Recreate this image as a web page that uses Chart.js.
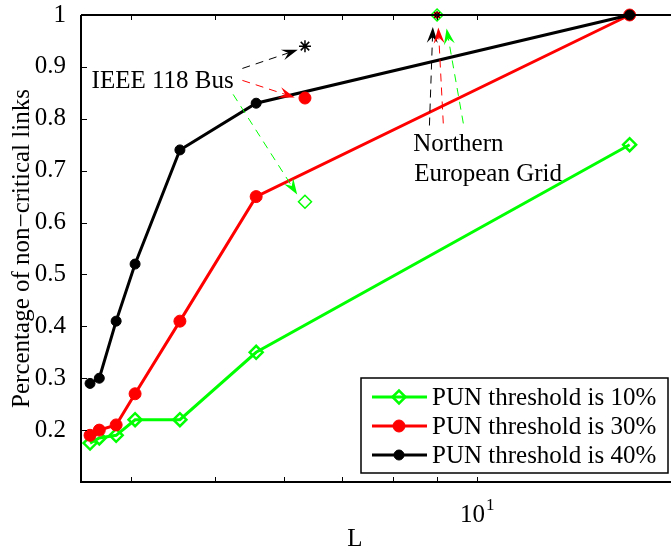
<!DOCTYPE html>
<html>
<head>
<meta charset="utf-8">
<script src="https://cdn.jsdelivr.net/npm/chart.js@4.4.1/dist/chart.umd.min.js"></script>
<style>
  html, body { margin: 0; padding: 0; background: #fff; }
  #wrap { width: 671px; height: 549px; position: relative; }
</style>
</head>
<body>
<div id="wrap"><canvas id="linksChart"></canvas></div>
<script>
// L values shared by the three threshold curves
const lValues = [3.585, 3.674, 3.842, 4.04, 4.55, 5.57, 15];
const pun10 = [0.175, 0.185, 0.19, 0.22, 0.22, 0.35, 0.75];
const pun30 = [0.19, 0.20, 0.21, 0.27, 0.41, 0.65, 1.0];
const pun40 = [0.29, 0.30, 0.41, 0.52, 0.74, 0.83, 1.0];
const seriesLabels = ['PUN threshold is 10%', 'PUN threshold is 30%', 'PUN threshold is 40%'];

// single test systems: value for thresholds 10%, 30%, 40%
const ieeeL = 6.34;
const ieeeValues = [0.64, 0.84, 0.94];
const negL = 9;
const negValues = [1, 1, 1];

const yTickValues = [0.2, 0.3, 0.4, 0.5, 0.6, 0.7, 0.8, 0.9, 1];
const xTickValues = [4, 5, 6, 7, 8, 9, 10];

const serif = "'Liberation Serif', 'Times New Roman', serif";
const GREEN = '#00ff00';
const RED = '#ff0000';
const BLACK = '#000000';

// arrow annotations, in data units [L, value]
const arrows = [
  { from: [5.37, 0.897], to: [6.22, 0.933], color: BLACK },
  { from: [5.37, 0.874], to: [6.17, 0.841], color: RED },
  { from: [5.24, 0.847], to: [6.21, 0.654], color: GREEN },
  { from: [8.82, 0.787], to: [8.90, 0.977], color: BLACK },
  { from: [9.15, 0.791], to: [9.03, 0.976], color: RED },
  { from: [9.65, 0.791], to: [9.23, 0.974], color: GREEN }
];
const notes = [
  { text: 'IEEE 118 Bus', at: [3.60, 0.860] },
  { text: 'Northern', at: [8.45, 0.738] },
  { text: 'European Grid', at: [8.47, 0.681] }
];

function points(ys) {
  return ys.map((y, i) => ({ x: lValues[i], y: y }));
}

function drawArrow(ctx, x0, y0, x1, y1, color) {
  const ang = Math.atan2(y1 - y0, x1 - x0);
  const headLen = 16, headHalf = 5.5, notch = 10;
  ctx.save();
  ctx.strokeStyle = color;
  ctx.fillStyle = color;
  ctx.lineWidth = 1;
  ctx.setLineDash([8, 6]);
  ctx.beginPath();
  ctx.moveTo(x0, y0);
  ctx.lineTo(x1 - Math.cos(ang) * notch, y1 - Math.sin(ang) * notch);
  ctx.stroke();
  ctx.setLineDash([]);
  ctx.translate(x1, y1);
  ctx.rotate(ang);
  ctx.beginPath();
  ctx.moveTo(0, 0);
  ctx.lineTo(-headLen, -headHalf);
  ctx.lineTo(-notch, 0);
  ctx.lineTo(-headLen, headHalf);
  ctx.closePath();
  ctx.fill();
  ctx.restore();
}

// box, inward ticks, x labels, annotations and legend
const matlabAxes = {
  id: 'matlabAxes',
  afterDatasetsDraw(chart) {
    const { ctx, chartArea: a, scales: { x, y } } = chart;
    ctx.save();

    ctx.strokeStyle = BLACK;
    ctx.lineWidth = 2;
    ctx.beginPath();
    ctx.moveTo(a.left, a.top);
    ctx.lineTo(a.right, a.top);
    ctx.moveTo(a.left, a.top);
    ctx.lineTo(a.left, a.bottom);
    ctx.lineTo(a.right, a.bottom);
    ctx.stroke();

    ctx.lineWidth = 1;
    ctx.beginPath();
    x.ticks.forEach(t => {
      const px = Math.round(x.getPixelForValue(t.value)) + 0.5;
      ctx.moveTo(px, a.bottom); ctx.lineTo(px, a.bottom - 5);
      ctx.moveTo(px, a.top); ctx.lineTo(px, a.top + 5);
    });
    y.ticks.forEach(t => {
      const py = Math.round(y.getPixelForValue(t.value)) + 0.5;
      ctx.moveTo(a.left, py); ctx.lineTo(a.left + 6, py);
    });
    ctx.stroke();

    // 10^1 label under the decade tick
    ctx.fillStyle = BLACK;
    ctx.textBaseline = 'alphabetic';
    const dec = x.getPixelForValue(10);
    ctx.font = '25px ' + serif;
    const w10 = ctx.measureText('10').width;
    ctx.font = '17px ' + serif;
    const w1 = ctx.measureText('1').width;
    const start = dec - (w10 + w1) / 2;
    ctx.font = '25px ' + serif;
    ctx.textAlign = 'left';
    ctx.fillText('10', start, a.bottom + 40);
    ctx.font = '17px ' + serif;
    ctx.fillText('1', start + w10 + 1, a.bottom + 28);

    ctx.font = '25px ' + serif;
    ctx.textAlign = 'center';
    ctx.fillText('L', a.left + 274, a.bottom + 64);

    arrows.forEach(ar => {
      drawArrow(ctx,
        x.getPixelForValue(ar.from[0]), y.getPixelForValue(ar.from[1]),
        x.getPixelForValue(ar.to[0]), y.getPixelForValue(ar.to[1]), ar.color);
    });

    ctx.textAlign = 'left';
    ctx.fillStyle = BLACK;
    notes.forEach(n => {
      ctx.fillText(n.text, x.getPixelForValue(n.at[0]), y.getPixelForValue(n.at[1]));
    });

    // legend box in the lower right corner
    const box = { left: 361, top: 378, right: 668, bottom: 473 };
    ctx.fillStyle = '#ffffff';
    ctx.fillRect(box.left, box.top, box.right - box.left, box.bottom - box.top);
    ctx.strokeStyle = BLACK;
    ctx.lineWidth = 1.5;
    ctx.strokeRect(box.left, box.top, box.right - box.left, box.bottom - box.top);
    chart.data.datasets.slice(0, 3).forEach((ds, i) => {
      const ry = box.top + 19 + i * 29;
      ctx.strokeStyle = ds.borderColor;
      ctx.lineWidth = ds.borderWidth;
      ctx.beginPath();
      ctx.moveTo(box.left + 11, ry);
      ctx.lineTo(box.left + 66, ry);
      ctx.stroke();
      ctx.fillStyle = ds.pointBackgroundColor;
      ctx.strokeStyle = ds.pointBorderColor;
      ctx.lineWidth = ds.pointBorderWidth;
      Chart.helpers.drawPoint(ctx, {
        pointStyle: ds.pointStyle, radius: ds.pointRadius,
        borderWidth: ds.pointBorderWidth, rotation: 0
      }, box.left + 38, ry);
      ctx.fillStyle = BLACK;
      ctx.font = '25px ' + serif;
      ctx.textBaseline = 'middle';
      ctx.fillText(ds.label, box.left + 71, ry + 1);
    });

    ctx.restore();
  }
};

function curve(label, ys, color, style, radius, order) {
  return {
    label: label,
    data: points(ys),
    borderColor: color,
    borderWidth: 3,
    pointStyle: style,
    pointRadius: radius,
    pointBorderWidth: style === 'rectRot' ? 2.5 : 1,
    pointBorderColor: color,
    pointBackgroundColor: style === 'rectRot' ? 'rgba(0,0,0,0)' : color,
    tension: 0,
    clip: false,
    order: order
  };
}

function marker(lx, val, color, style, radius, width) {
  return {
    label: '',
    data: [{ x: lx, y: val }],
    showLine: false,
    pointStyle: style,
    pointRadius: radius,
    pointBorderWidth: width,
    pointBorderColor: color,
    pointBackgroundColor: style === 'circle' ? color : 'rgba(0,0,0,0)',
    clip: false,
    order: 0
  };
}

// keep the plot box fixed: no extra room for overhanging labels
function noOverhang(scale) {
  scale.paddingTop = 0;
  scale.paddingBottom = 0;
  scale.paddingLeft = 0;
  scale.paddingRight = 0;
}

const ctx = document.getElementById('linksChart').getContext('2d');

const data = {
  datasets: [
    curve(seriesLabels[0], pun10, GREEN, 'rectRot', 6.5, 3),
    curve(seriesLabels[1], pun30, RED, 'circle', 6, 2),
    curve(seriesLabels[2], pun40, BLACK, 'circle', 5, 1),
    marker(ieeeL, ieeeValues[0], GREEN, 'rectRot', 6.5, 1.5),
    marker(ieeeL, ieeeValues[1], RED, 'circle', 6, 1),
    marker(ieeeL, ieeeValues[2], BLACK, 'star', 6, 1.5),
    marker(negL, negValues[2], BLACK, 'star', 4, 1),
    marker(negL, negValues[0], GREEN, 'rectRot', 6, 1.5),
    marker(negL, negValues[1], RED, 'circle', 3, 1)
  ]
};

const config = {
  type: 'line',
  data: data,
  options: {
    responsive: true,
    maintainAspectRatio: false,
    animation: false,
    events: [],
    layout: {
      autoPadding: false,
      padding: { top: 15, right: 0, bottom: 0, left: 0 }
    },
    plugins: {
      legend: { display: false },
      tooltip: { enabled: false }
    },
    scales: {
      x: {
        type: 'logarithmic',
        min: 3.5,
        max: 16.74,
        grid: { display: false },
        border: { display: false },
        ticks: { display: false },
        afterBuildTicks: scale => {
          scale.ticks = xTickValues.map(v => ({ value: v }));
        },
        afterFit: scale => {
          scale.height = 67;
          noOverhang(scale);
        }
      },
      y: {
        min: 0.1,
        max: 1,
        grid: { display: false },
        border: { display: false },
        ticks: {
          color: BLACK,
          padding: 7,
          font: { family: serif, size: 25 },
          callback: v => (v === 1 ? '1' : Number(v).toFixed(1))
        },
        afterBuildTicks: scale => {
          scale.ticks = yTickValues.map(v => ({ value: v }));
        },
        afterFit: scale => {
          scale.width = 81;
          noOverhang(scale);
        },
        title: {
          display: true,
          text: 'Percentage of non\u2212critical links',
          color: BLACK,
          font: { family: serif, size: 25 },
          padding: { top: 7, bottom: 0 }
        }
      }
    }
  },
  plugins: [matlabAxes]
};

const linksChart = new Chart(ctx, config);
</script>
</body>
</html>
